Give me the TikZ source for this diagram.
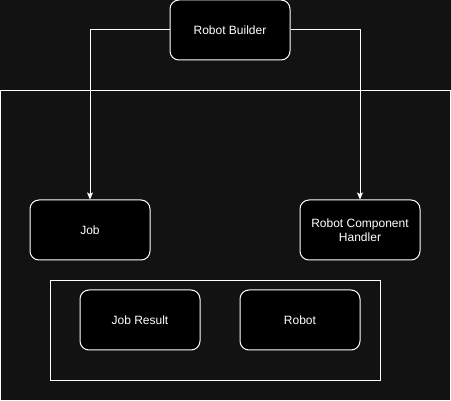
\documentclass[tikz,border=0pt]{standalone}
\usepackage{fontspec}
\setmainfont{Liberation Sans}
\usetikzlibrary{arrows.meta, positioning}
\definecolor{canvas}{HTML}{121212}
\tikzstyle{block} = [rectangle, rounded corners=9pt, draw=white, fill=black, text=white, line width=1pt,
                     minimum width=120pt, minimum height=60pt, align=center, font=\fontsize{12}{14}\selectfont]
\tikzstyle{frame} = [draw=white, line width=1pt]
\tikzstyle{link} = [draw=white, line width=1pt, -{Stealth[length=7pt, width=6pt, inset=1.5pt]}]

\begin{document}
\begin{tikzpicture}[x=1pt, y=-1pt]
	\useasboundingbox[fill=canvas] (0, 0) rectangle (451, 401);

	% containers
	\draw[frame] (0.5, 90.5) rectangle (450.5, 400.5);
	\draw[frame] (50.5, 280.5) rectangle (380.5, 380.5);

	\node (Builder) [block] at (230, 30) {Robot Builder};
	\node (Job) [block] at (90, 230) {Job};
	\node (Handler) [block] at (360, 230) {Robot Component\\Handler};

	% inner group
	\node (JobResult) [block] at (140, 320) {Job Result};
	\node (Robot) [block] at (300, 320) {Robot};

	\draw[link] (Builder.west) -| (Job.north);
	\draw[link] (Builder.east) -| (Handler.north);
\end{tikzpicture}
\end{document}
